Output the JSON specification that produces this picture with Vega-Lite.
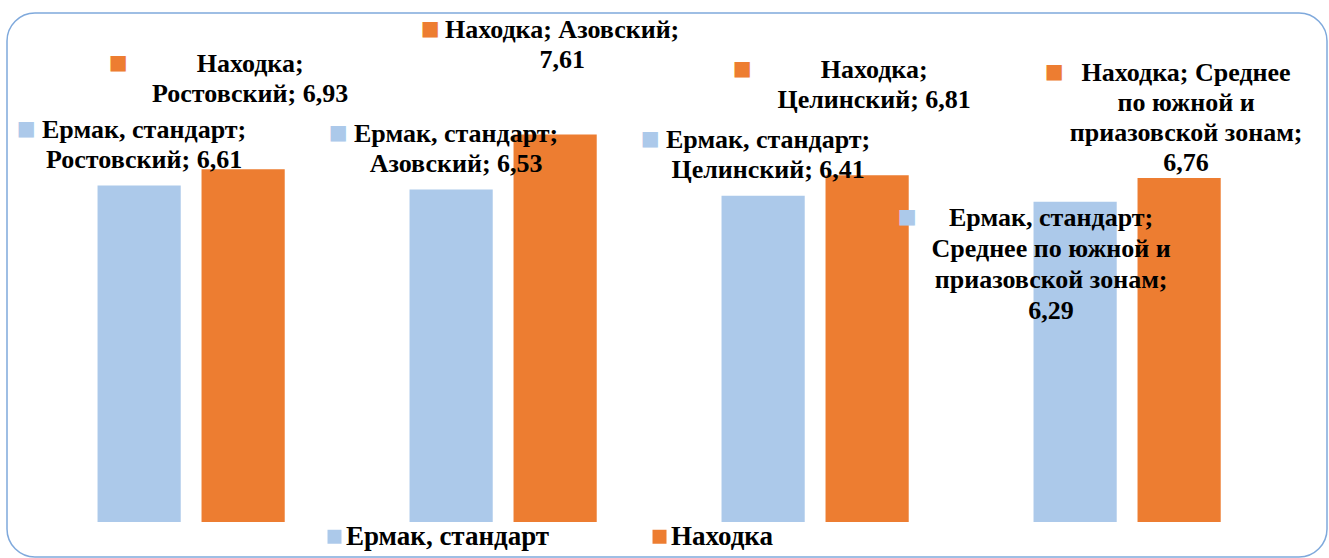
{
  "$schema": "https://vega.github.io/schema/vega-lite/v6.json",
  "width": 1320,
  "height": 544,
  "padding": {"left": 7, "top": 13, "right": 2, "bottom": 1},
  "autosize": {"type": "none"},
  "background": "#ffffff",
  "config": {
    "view": {"stroke": "#7fa9dc", "strokeWidth": 1.5, "cornerRadius": 28},
    "font": "'Liberation Serif', 'Times New Roman', serif"
  },
  "data": {
    "values": [
      {"region": "Ростовский", "series": "Ермак, стандарт", "value": 6.61, "label": "Ермак, стандарт;\nРостовский; 6,61"},
      {"region": "Ростовский", "series": "Находка", "value": 6.93, "label": "Находка;\nРостовский; 6,93"},
      {"region": "Азовский", "series": "Ермак, стандарт", "value": 6.53, "label": "Ермак, стандарт;\nАзовский; 6,53"},
      {"region": "Азовский", "series": "Находка", "value": 7.61, "label": "Находка; Азовский;\n7,61"},
      {"region": "Целинский", "series": "Ермак, стандарт", "value": 6.41, "label": "Ермак, стандарт;\nЦелинский; 6,41"},
      {"region": "Целинский", "series": "Находка", "value": 6.81, "label": "Находка;\nЦелинский; 6,81"},
      {"region": "Среднее по южной и приазовской зонам", "series": "Ермак, стандарт", "value": 6.29, "label": "Ермак, стандарт;\nСреднее по южной и\nприазовской зонам;\n6,29"},
      {"region": "Среднее по южной и приазовской зонам", "series": "Находка", "value": 6.76, "label": "Находка; Среднее\nпо южной и\nприазовской зонам;\n6,76"}
    ]
  },
  "encoding": {
    "x": {
      "field": "region",
      "type": "nominal",
      "sort": ["Ростовский", "Азовский", "Целинский", "Среднее по южной и приазовской зонам"],
      "axis": null,
      "scale": {"paddingInner": 0.4, "paddingOuter": 0.3154, "align": 0.46}
    },
    "xOffset": {
      "field": "series",
      "type": "nominal",
      "sort": ["Ермак, стандарт", "Находка"],
      "scale": {"paddingInner": 0.2, "paddingOuter": 0}
    },
    "y": {
      "field": "value",
      "type": "quantitative",
      "axis": null,
      "scale": {"domain": [-0.69, 10], "nice": false}
    }
  },
  "layer": [
    {
      "mark": {"type": "bar"},
      "encoding": {
        "color": {
          "field": "series",
          "type": "nominal",
          "scale": {"domain": ["Ермак, стандарт", "Находка"], "range": ["#acc9ea", "#ed7d31"]},
          "legend": {
            "orient": "none",
            "legendX": 314,
            "legendY": 510,
            "direction": "horizontal",
            "title": null,
            "symbolType": "square",
            "symbolSize": 196,
            "symbolStrokeWidth": 0,
            "labelFont": "'Liberation Serif', 'Times New Roman', serif",
            "labelFontSize": 27,
            "labelFontWeight": "bold",
            "labelColor": "#000000",
            "columnPadding": 96,
            "labelOffset": -2,
            "labelLimit": 0,
            "padding": 0
          }
        }
      }
    },
    {
      "transform": [{"filter": "datum.series === 'Находка'"}],
      "mark": {"type": "text", "lineBreak": "\n", "fontSize": 26, "fontWeight": "bold", "baseline": "alphabetic", "align": "center", "dx": 7, "dy": -97, "lineHeight": 30, "color": "#000000"},
      "encoding": {"text": {"field": "label"}}
    },
    {
      "transform": [{"filter": "datum.series === 'Ермак, стандарт' && datum.region !== 'Среднее по южной и приазовской зонам'"}],
      "mark": {"type": "text", "lineBreak": "\n", "fontSize": 26, "fontWeight": "bold", "baseline": "alphabetic", "align": "center", "dx": 5, "dy": -48, "lineHeight": 30, "color": "#000000"},
      "encoding": {"text": {"field": "label"}}
    },
    {
      "transform": [{"filter": "datum.series === 'Ермак, стандарт' && datum.region === 'Среднее по южной и приазовской зонам'"}],
      "mark": {"type": "text", "lineBreak": "\n", "fontSize": 26, "fontWeight": "bold", "baseline": "alphabetic", "align": "center", "dx": -24, "dy": 24, "lineHeight": 31, "color": "#000000"},
      "encoding": {"text": {"field": "label"}}
    },
    {
      "transform": [{"filter": "datum.series === 'Находка'"}],
      "mark": {"type": "text", "font": "DejaVu Sans", "fontSize": 20, "baseline": "middle", "align": "center", "dx": -125, "dy": -106, "color": "#ed7d31"},
      "encoding": {"text": {"value": "■"}}
    },
    {
      "transform": [{"filter": "datum.series === 'Ермак, стандарт' && datum.region !== 'Среднее по южной и приазовской зонам'"}],
      "mark": {"type": "text", "font": "DejaVu Sans", "fontSize": 20, "baseline": "middle", "align": "center", "dx": -113, "dy": -57, "color": "#acc9ea"},
      "encoding": {"text": {"value": "■"}}
    },
    {
      "transform": [{"filter": "datum.series === 'Ермак, стандарт' && datum.region === 'Среднее по южной и приазовской зонам'"}],
      "mark": {"type": "text", "font": "DejaVu Sans", "fontSize": 20, "baseline": "middle", "align": "center", "dx": -168, "dy": 15, "color": "#acc9ea"},
      "encoding": {"text": {"value": "■"}}
    }
  ]
}
